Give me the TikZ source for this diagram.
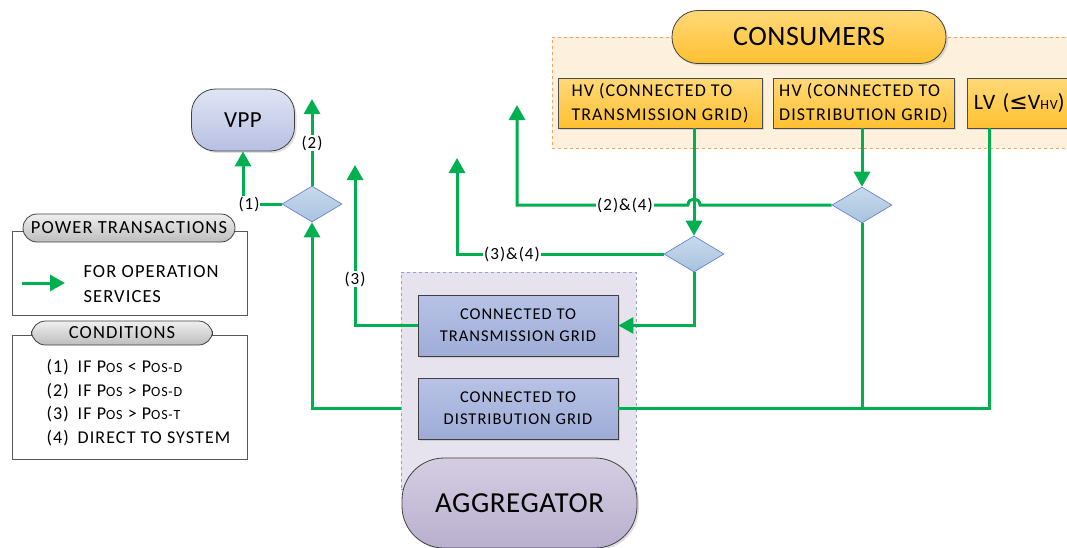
\documentclass[tikz,border=0pt]{standalone}
\usepackage{fontspec}
\setmainfont[LetterSpace=6]{Carlito}
\newfontfamily\bigfont[LetterSpace=2]{Carlito}
\newfontfamily\symfont{DejaVu Sans}
\usetikzlibrary{shapes.geometric,arrows.meta,shadows}

\definecolor{flowgreen}{HTML}{00B050}
\definecolor{consTop}{HTML}{FFD978}
\definecolor{consBot}{HTML}{FFC030}
\definecolor{consArea}{HTML}{FDF1DE}
\definecolor{consEdge}{HTML}{F4A460}
\definecolor{gridTop}{HTML}{B8C2E6}
\definecolor{gridBot}{HTML}{9EACD6}
\definecolor{zoneFill}{HTML}{E6E3EE}
\definecolor{zoneEdge}{HTML}{8FA0D8}
\definecolor{aggTop}{HTML}{D5CEE2}
\definecolor{aggBot}{HTML}{B9AFCF}
\definecolor{vppTop}{HTML}{E0E4F4}
\definecolor{vppBot}{HTML}{B6C0E2}
\definecolor{diaTop}{HTML}{C8DAEC}
\definecolor{diaBot}{HTML}{A8C2DE}
\definecolor{diaEdge}{HTML}{5B7BC8}
\definecolor{headTop}{HTML}{EFEFEF}
\definecolor{headBot}{HTML}{BDBDBD}

\newcommand{\lowcap}[1]{{\fontsize{14}{14}\selectfont #1}}

\begin{document}
\begin{tikzpicture}[x=1pt,y=-1pt,
  every node/.style={font=\fontsize{17}{21}\selectfont},
  flow/.style={draw=flowgreen,line width=3pt,-{Triangle[width=16pt,length=15pt]}},
  link/.style={draw=flowgreen,line width=3pt},
  cond/.style={fill=white,inner sep=1pt,font=\fontsize{17}{20}\selectfont},
  softshadow/.style={drop shadow={opacity=0.25,shadow xshift=2pt,shadow yshift=-2pt}},
  pill/.style={rectangle,rounded corners=#1,draw=black!75,line width=0.8pt},
  consbox/.style={rectangle,draw=black!70,line width=0.8pt,top color=consTop,bottom color=consBot,
    minimum height=50pt,inner sep=2pt,align=left,font=\fontsize{18}{24}\selectfont,softshadow},
  gridbox/.style={rectangle,draw=black!75,line width=0.8pt,top color=gridTop,bottom color=gridBot,
    minimum width=200pt,minimum height=61pt,align=center,font=\fontsize{16.5}{22}\selectfont,softshadow},
  decision/.style={diamond,draw=diaEdge,line width=0.6pt,top color=diaTop,bottom color=diaBot,
    minimum width=60pt,minimum height=36pt,inner sep=0pt,aspect=1.67},
  legendhead/.style={pill=14pt,top color=headTop,bottom color=headBot,minimum height=28pt,
    inner sep=0pt,font=\fontsize{18.5}{20}\selectfont},
  legendbox/.style={rectangle,draw=black!65,line width=0.8pt}
]
\useasboundingbox (0,0) rectangle (1067,547);
\clip (0,0) rectangle (1067,547);

% consumers side
\node[rectangle,draw=consEdge,dashed,fill=consArea,minimum width=540pt,minimum height=111pt] (consarea) at (822,92.5) {};
\node[pill=26pt,top color=consTop,bottom color=consBot,minimum width=274pt,minimum height=53pt,
  font=\bigfont\fontsize{28}{30}\selectfont,softshadow] (cons) at (809,37) {CONSUMERS};
\node[consbox,minimum width=204pt] (hvt) at (660,103) {HV (CONNECTED TO\\TRANSMISSION GRID)};
\node[consbox,minimum width=181pt] (hvd) at (863.5,103) {HV (CONNECTED TO\\DISTRIBUTION GRID)};
\node[consbox,anchor=west,minimum width=125pt,text width=112pt,inner xsep=5pt,
  font=\fontsize{22}{24}\selectfont] (lv) at (967,103) {LV ({\symfont ≤}V\lowcap{HV})};

% aggregator side
\node[rectangle,draw=zoneEdge,dashed,fill=zoneFill,minimum width=235pt,minimum height=217pt] (aggzone) at (518.5,380.5) {};
\node[gridbox] (trans) at (518,325.5) {CONNECTED TO\\TRANSMISSION GRID};
\node[gridbox] (dist) at (518,408.5) {CONNECTED TO\\DISTRIBUTION GRID};
\node[pill=42pt,top color=aggTop,bottom color=aggBot,minimum width=235pt,minimum height=90pt,
  font=\bigfont\fontsize{29}{30}\selectfont,softshadow] (agg) at (519.5,503) {AGGREGATOR};

% vpp and decisions
\node[pill=24pt,top color=vppTop,bottom color=vppBot,minimum width=103pt,minimum height=62pt,
  font=\bigfont\fontsize{23}{24}\selectfont,softshadow] (vpp) at (243,120) {VPP};
\node[decision] (d1) at (312,204) {};
\node[decision] (d2) at (862,205) {};
\node[decision] (d3) at (694,254) {};

\coordinate (a2) at (312,99);
\coordinate (a3) at (355,165);
\coordinate (a24) at (517,105);
\coordinate (a34) at (457,158);

% power flows
\draw[flow] (d3.north |- hvt.south) -- (d3.north);
\draw[flow] (d2.north |- hvd.south) -- (d2.north);
\draw[link] ([xshift=22pt]lv.south west) |- (dist.east);
\draw[link] (d2.south) -- (d2.south |- dist.east);
\draw[flow] (d3.south) |- (trans.east);
\draw[flow] (d3.west) -| (a34);
\draw[flow] (d2.west) -- (700,205) .. controls (700,197) and (688,197) .. (688,205) -| (a24);
\draw[flow] (trans.west) -| (a3);
\draw[flow] (aggzone.west |- dist.west) -| (d1.south);
\draw[flow] (d1.west) -| (vpp.south);
\draw[flow] (d1.north) -- (a2);

\node[cond] (l1) at (249,204) {(1)};
\node[cond] (l2) at (312,143) {(2)};
\node[cond] (l3) at (355,279) {(3)};
\node[cond] (l24) at (625,205) {(2)\&(4)};
\node[cond] (l34) at (512,254) {(3)\&(4)};

% legend
\node[legendbox,minimum width=235pt,minimum height=84pt] (ptbox) at (129.5,273) {};
\node[legendhead,minimum width=212pt] (pthead) at (129,228) {POWER TRANSACTIONS};
\coordinate (legfrom) at (22,283);
\coordinate (legto) at (65,283);
\draw[flow] (legfrom) -- (legto);
\node[anchor=west,align=left,font=\fontsize{18.5}{25}\selectfont] (ptnote) at (80,284) {FOR OPERATION\\SERVICES};

\node[legendbox,minimum width=235pt,minimum height=124pt] (condbox) at (129.5,397) {};
\node[legendhead,minimum width=181pt,minimum height=24pt] (condhead) at (122,333) {CONDITIONS};
\node[anchor=north west,align=left,font=\fontsize{18}{23.5}\selectfont] (condlist) at (43,356)
  {(1)\hspace{9pt}IF P\lowcap{OS} < P\lowcap{OS-D}\\
   (2)\hspace{9pt}IF P\lowcap{OS} > P\lowcap{OS-D}\\
   (3)\hspace{9pt}IF P\lowcap{OS} > P\lowcap{OS-T}\\
   (4)\hspace{9pt}DIRECT TO SYSTEM};
\end{tikzpicture}
\end{document}
